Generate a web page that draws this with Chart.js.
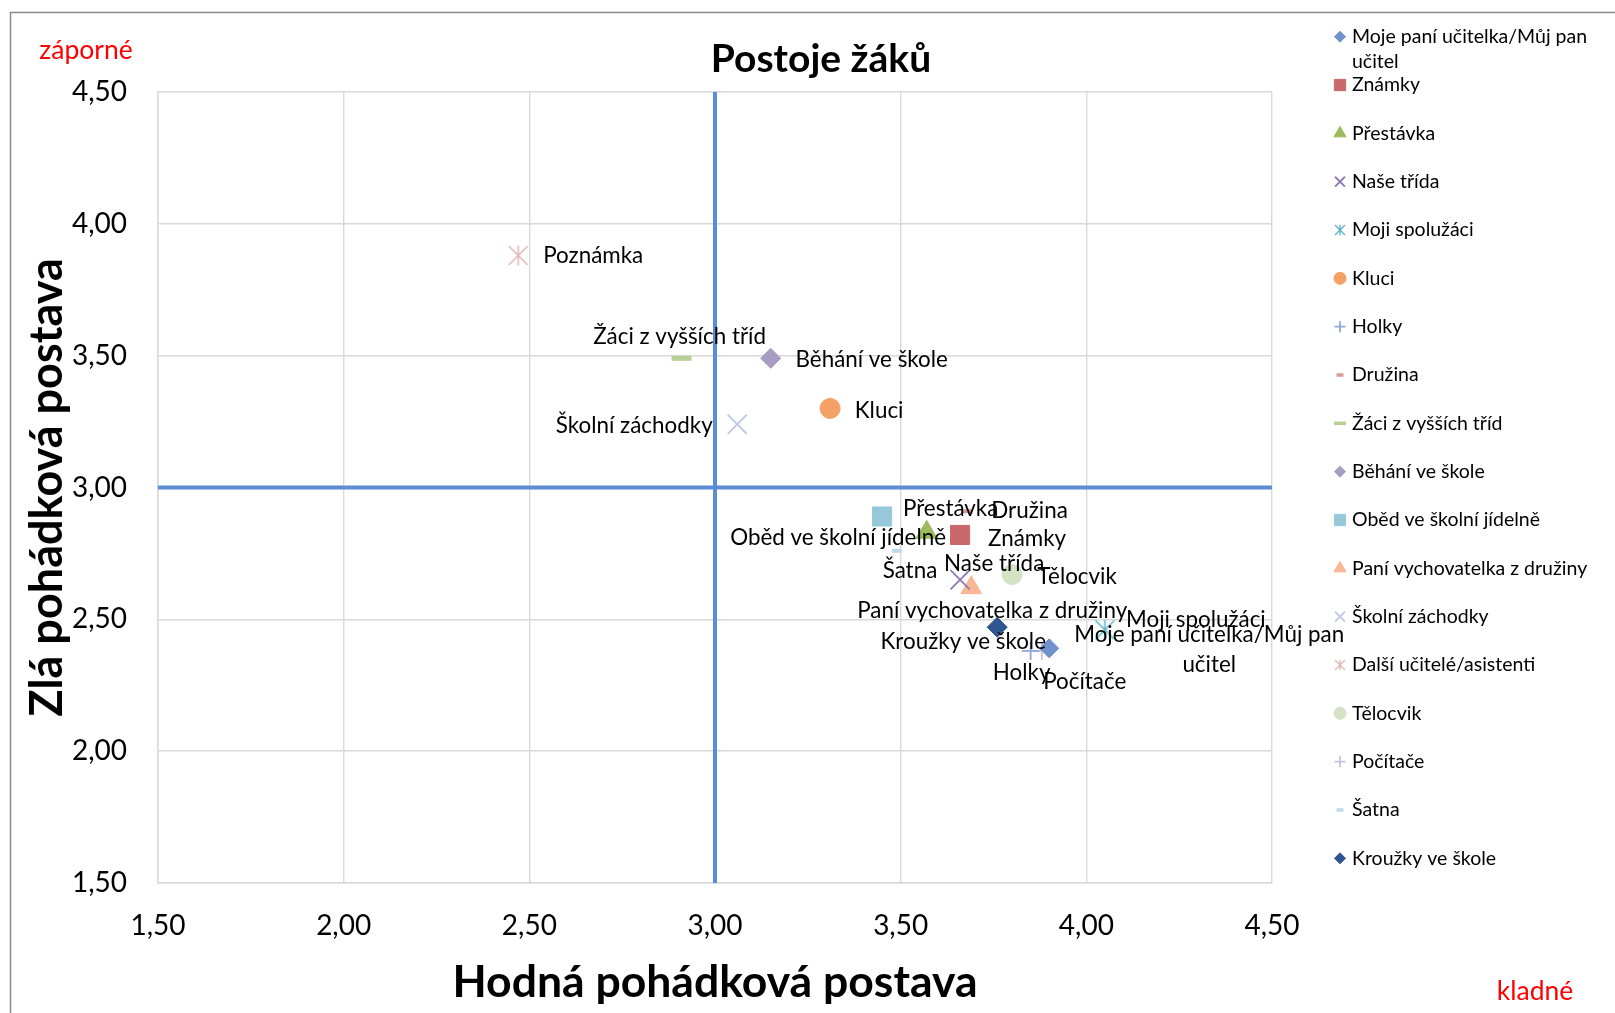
<!DOCTYPE html>
<html lang="cs">
<head>
<meta charset="utf-8">
<title>Postoje žáků</title>
<script src="https://cdn.jsdelivr.net/npm/chart.js@4.4.1/dist/chart.umd.min.js"></script>
<style>
    html, body { margin: 0; padding: 0; background: #fff; }
    #wrap { width: 1615px; height: 1013px; }
</style>
</head>
<body>
<div id="wrap"><canvas id="attitudeChart" width="1615" height="1013"></canvas></div>
<script>
// Series in legend order
const seriesNames = [
    'Moje paní učitelka/Můj pan učitel', 'Známky', 'Přestávka', 'Naše třída',
    'Moji spolužáci', 'Kluci', 'Holky', 'Družina', 'Žáci z vyšších tříd',
    'Běhání ve škole', 'Oběd ve školní jídelně', 'Paní vychovatelka z družiny',
    'Školní záchodky', 'Další učitelé/asistenti', 'Tělocvik', 'Počítače',
    'Šatna', 'Kroužky ve škole'
];
// Text shown next to each point
const pointLabels = [
    'Moje paní učitelka/Můj pan\nučitel', 'Známky', 'Přestávka', 'Naše třída',
    'Moji spolužáci', 'Kluci', 'Holky', 'Družina', 'Žáci z vyšších tříd',
    'Běhání ve škole', 'Oběd ve školní jídelně', 'Paní vychovatelka z družiny',
    'Školní záchodky', 'Poznámka', 'Tělocvik', 'Počítače',
    'Šatna', 'Kroužky ve škole'
];
// Hodná pohádková postava (x)
const goodScores = [3.90, 3.66, 3.57, 3.66, 4.05, 3.31, 3.85, 3.68, 2.91,
                    3.15, 3.45, 3.69, 3.06, 2.47, 3.80, 3.88, 3.49, 3.76];
// Zlá pohádková postava (y)
const badScores = [2.39, 2.82, 2.83, 2.65, 2.46, 3.30, 2.38, 2.91, 3.49,
                   3.49, 2.89, 2.62, 3.24, 3.88, 2.67, 2.38, 2.76, 2.47];
// Axis range and the neutral cross lines
const axisMin = 1.5;
const axisMax = 4.5;
const axisStep = 0.5;
const neutralValue = 3.0;

// Marker look per series
const markerColors = ['#7092CC', '#C96868', '#9BBB5E', '#8C7AB5', '#5BB4CC', '#F5A064',
                      '#8FA8D8', '#D99A9A', '#B6CF92', '#A89CC4', '#97C8D9', '#F9B796',
                      '#BCC8E2', '#E2B9B9', '#D5E2C4', '#C8C0DE', '#BCDCE8', '#2E5590'];
const markerStyles = ['rectRot', 'rect', 'triangle', 'crossRot', 'asterisk', 'circle',
                      'cross', 'line', 'line', 'rectRot', 'rect', 'triangle',
                      'crossRot', 'asterisk', 'circle', 'cross', 'line', 'rectRot'];
const markerRadii = [9.5, 13.5, 12, 13.5, 10, 10, 9, 5, 10, 10, 13.5, 12, 13.5, 10, 10, 9, 5, 10];
const legendRadii = [5.5, 8, 7, 7, 5.5, 6, 5.5, 3.5, 6, 5.5, 8, 7, 7, 5.5, 6, 5.5, 3.5, 5.5];
// label centre offset from its point, px
const labelOffsets = [[160, 1], [67, 4], [24, -24], [34, -16], [91, -10], [49, 2],
                      [-9, 22], [62, 0], [-2, -22], [101, 1], [-44, 21], [21, 23],
                      [-103, 2], [75, 0], [65, 2], [43, 31], [13, 20], [-34, 15]];

const FONT = 'Lato';

function asterisk(color, r, lw) {
    const c = document.createElement('canvas');
    const s = Math.ceil(2 * r + lw + 4);
    c.width = s; c.height = s;
    const g = c.getContext('2d');
    const m = s / 2;
    g.strokeStyle = color;
    g.lineWidth = lw;
    g.beginPath();
    g.moveTo(m - r, m - r); g.lineTo(m + r, m + r);
    g.moveTo(m + r, m - r); g.lineTo(m - r, m + r);
    g.moveTo(m, m - r * 1.05); g.lineTo(m, m + r * 1.05);
    g.stroke();
    return c;
}

function lineWidthFor(style, i) {
    if (style === 'line') return i === 8 ? 5 : 4;
    if (style === 'crossRot' || style === 'cross') return 1.8;
    return 1;
}

function fmt(v) { return Number(v).toFixed(2).replace('.', ','); }

document.addEventListener('DOMContentLoaded', function () {

    const datasets = seriesNames.map(function (name, i) {
        const style = markerStyles[i];
        const isStar = style === 'asterisk';
        return {
            label: name,
            data: [{ x: goodScores[i], y: badScores[i] }],
            pointStyle: isStar ? asterisk(markerColors[i], 9.5, 1.6) : style,
            legendStyle: isStar ? asterisk(markerColors[i], 5, 1.4) : style,
            pointRadius: markerRadii[i],
            legendRadius: legendRadii[i],
            backgroundColor: markerColors[i],
            borderColor: markerColors[i],
            pointBorderWidth: lineWidthFor(style, i)
        };
    });

    // neutral lines at 3,00
    datasets.push({
        label: 'vertical', isGuide: true, showLine: true,
        data: [{ x: neutralValue, y: axisMin }, { x: neutralValue, y: axisMax }],
        borderColor: '#5B8DD6', borderWidth: 4, pointRadius: 0
    });
    datasets.push({
        label: 'horizontal', isGuide: true, showLine: true,
        data: [{ x: axisMin, y: neutralValue }, { x: axisMax, y: neutralValue }],
        borderColor: '#5B8DD6', borderWidth: 4, pointRadius: 0
    });

    const framePlugin = {
        id: 'frame',
        beforeDraw: function (chart) {
            const ctx = chart.ctx;
            ctx.save();
            ctx.fillStyle = '#fff';
            ctx.fillRect(0, 0, chart.width, chart.height);
            ctx.strokeStyle = '#8a8a8a';
            ctx.lineWidth = 1.5;
            ctx.strokeRect(10.5, 12.5, chart.width + 100, chart.height + 100);
            ctx.restore();
        },
        afterDraw: function (chart) {
            const ctx = chart.ctx;
            ctx.save();
            ctx.textAlign = 'center';
            ctx.textBaseline = 'middle';
            ctx.fillStyle = '#000';
            ctx.font = 'bold 39px ' + FONT;
            ctx.fillText('Postoje žáků', 821, 59);
            ctx.fillStyle = '#FF0000';
            ctx.font = '26.5px ' + FONT;
            ctx.fillText('záporné', 86, 50);
            ctx.fillText('kladné', 1535, 991);

            // legend
            ctx.textAlign = 'left';
            ctx.font = '19.5px ' + FONT;
            chart.data.datasets.forEach(function (ds, i) {
                if (ds.isGuide) return;
                const y = 36.7 + i * 48.33;
                ctx.fillStyle = ds.backgroundColor;
                ctx.strokeStyle = ds.borderColor;
                ctx.lineWidth = Math.min(ds.pointBorderWidth, 3.5);
                Chart.helpers.drawPoint(ctx, {
                    pointStyle: ds.legendStyle, rotation: 0,
                    radius: ds.legendRadius, borderWidth: ctx.lineWidth
                }, 1340, y);
                ctx.fillStyle = '#000';
                const words = ds.label.split(' ');
                let line = '', lines = [];
                words.forEach(function (w) {
                    const test = line ? line + ' ' + w : w;
                    if (ctx.measureText(test).width > 250 && line) { lines.push(line); line = w; }
                    else line = test;
                });
                lines.push(line);
                lines.forEach(function (t, k) { ctx.fillText(t, 1352, y + k * 25); });
            });
            ctx.restore();
        },
        afterDatasetsDraw: function (chart) {
            const ctx = chart.ctx;
            ctx.save();
            ctx.textAlign = 'center';
            ctx.textBaseline = 'middle';
            ctx.fillStyle = '#000';
            ctx.font = '22.4px ' + FONT;
            chart.data.datasets.forEach(function (ds, i) {
                if (ds.isGuide) return;
                const pt = chart.getDatasetMeta(i).data[0];
                const lines = pointLabels[i].split('\n');
                const lh = 30;
                const y0 = pt.y + labelOffsets[i][1] - (lines.length - 1) * lh / 2;
                lines.forEach(function (t, k) {
                    ctx.fillText(t, pt.x + labelOffsets[i][0], y0 + k * lh);
                });
            });
            ctx.restore();
        }
    };

    const gridColor = '#D9D9D9';

    new Chart(document.getElementById('attitudeChart'), {
        type: 'scatter',
        data: { datasets: datasets },
        plugins: [framePlugin],
        options: {
            responsive: false,
            animation: false,
            events: [],
            layout: { padding: { left: 0, top: 92, right: 343, bottom: 0 } },
            plugins: {
                legend: { display: false },
                tooltip: { enabled: false },
                title: { display: false }
            },
            scales: {
                x: {
                    type: 'linear', min: axisMin, max: axisMax,
                    ticks: {
                        stepSize: axisStep, callback: fmt, color: '#000', padding: 26,
                        font: { family: FONT, size: 28 }
                    },
                    grid: { color: gridColor, lineWidth: 1.4, drawTicks: false },
                    border: { color: gridColor, width: 1.4 },
                    title: {
                        display: true, text: 'Hodná pohádková postava', color: '#000',
                        font: { family: FONT, size: 44.5, weight: 'bold' },
                        padding: { top: 0, bottom: 4 }
                    },
                    afterFit: function (s) { s.height = 130; }
                },
                y: {
                    type: 'linear', min: axisMin, max: axisMax,
                    ticks: {
                        stepSize: axisStep, callback: fmt, color: '#000', padding: 31,
                        font: { family: FONT, size: 28 }
                    },
                    grid: { color: gridColor, lineWidth: 1.4, drawTicks: false },
                    border: { color: gridColor, width: 1.4 },
                    title: {
                        display: true, text: 'Zlá pohádková postava', color: '#000',
                        font: { family: FONT, size: 45, weight: 'bold' },
                        padding: { top: 20, bottom: 0 }
                    },
                    afterFit: function (s) { s.width = 158; }
                }
            }
        }
    });
});
</script>
</body>
</html>
